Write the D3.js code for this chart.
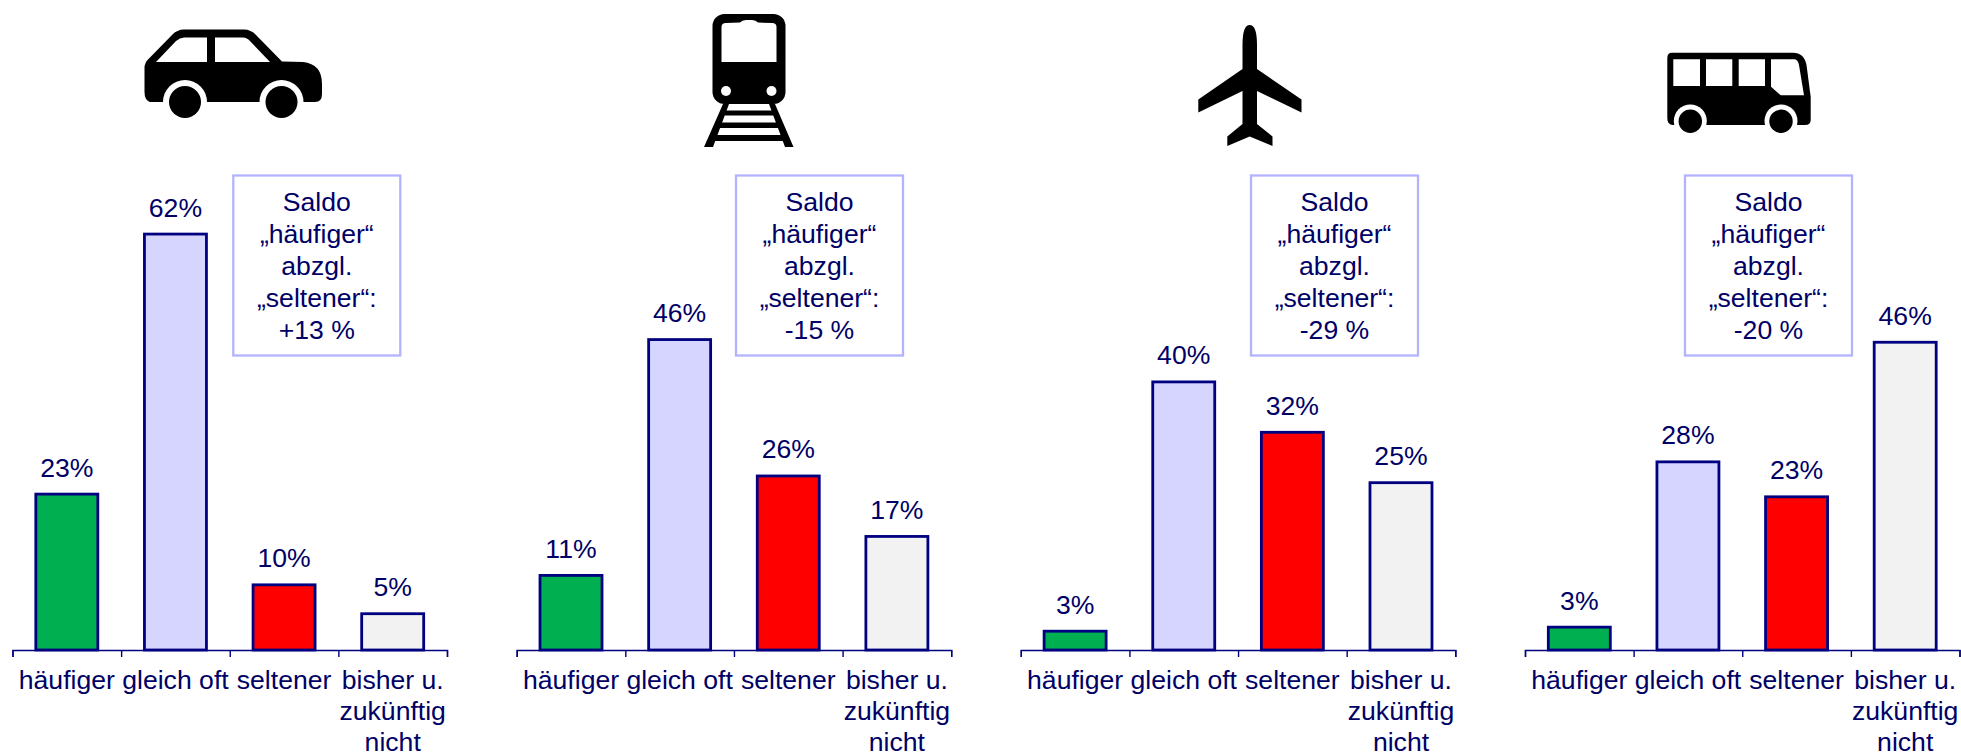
<!DOCTYPE html>
<html>
<head>
<meta charset="utf-8">
<script src="https://cdn.jsdelivr.net/npm/d3@7"></script>
<style>
  html, body { margin: 0; padding: 0; background: #fff; overflow: hidden; }
  svg { display: block; }
  text { font-family: "Liberation Sans", Arial, sans-serif; font-size: 26.6px; fill: #000066; }
  .axis path, .axis line { stroke: #000080; stroke-width: 1.4px; }
</style>
</head>
<body>
<svg id="chart" width="1961" height="754"></svg>
<script>
// values, one list per transport mode
var categories = ["häufiger", "gleich oft", "seltener", "bisher u. zukünftig nicht"];
var auto = [23.2, 61.9, 9.7, 5.4];
var bahn = [11.1, 46.2, 25.9, 16.9];
var flugzeug = [2.8, 39.9, 32.4, 24.9];
var bus = [3.4, 28, 22.8, 45.8];
var saldo = ["+13 %", "-15 %", "-29 %", "-20 %"];
var saldoLines = ["Saldo", "„häufiger“", "abzgl.", "„seltener“:"];
var barColors = ["#00B050", "#D5D5FF", "#FF0000", "#F2F2F2"];

var series = [auto, bahn, flugzeug, bus];

var svg = d3.select("#chart");
var baseline = 650, axisWidth = 434.5;
var panelX = [12.5, 516.7, 1020.8, 1525];
var boxX = [233.3, 736, 1251, 1685];

// 1% is about 6.72px in the picture
var y = d3.scaleLinear().domain([0, 62]).range([baseline, baseline - 416.6]);
var x = d3.scaleBand().domain(categories).range([0, axisWidth]).paddingInner(0).paddingOuter(0);
var xEdges = d3.scaleLinear().domain([0, 4]).range([0, axisWidth]);
var barWidth = 62;

series.forEach(function(values, p) {
  var g = svg.append("g").attr("transform", "translate(" + panelX[p] + ",0)");

  g.selectAll(".bar")
    .data(values)
    .enter().append("rect")
      .attr("class", "bar")
      .attr("x", function(d, i) { return x(categories[i]) + (x.bandwidth() - barWidth) / 2; })
      .attr("y", function(d) { return y(d); })
      .attr("width", barWidth)
      .attr("height", function(d) { return baseline - y(d); })
      .attr("fill", function(d, i) { return barColors[i]; })
      .attr("stroke", "#000080")
      .attr("stroke-width", 2.8);

  g.selectAll(".value")
    .data(values)
    .enter().append("text")
      .attr("class", "value")
      .attr("text-anchor", "middle")
      .attr("x", function(d, i) { return x(categories[i]) + x.bandwidth() / 2; })
      .attr("y", function(d) { return y(d) - 17.5; })
      .text(function(d) { return d3.format(".0f")(d) + "%"; });

  // ticks sit on the category edges, not on the centres
  g.append("g")
    .attr("class", "axis")
    .attr("transform", "translate(0," + baseline + ")")
    .call(d3.axisBottom(xEdges).ticks(4).tickSize(7).tickSizeOuter(7).tickFormat(""));

  var labels = g.append("g")
    .attr("class", "axis labels")
    .attr("transform", "translate(0," + baseline + ")")
    .call(d3.axisBottom(x).tickSize(0).tickFormat(""));
  labels.select(".domain").remove();

  labels.selectAll(".tick").each(function(d) {
    var rows = d.indexOf("bisher") == 0 ? ["bisher u.", "zukünftig", "nicht"] : [d];
    d3.select(this).selectAll("text.row")
      .data(rows)
      .enter().append("text")
        .attr("class", "row")
        .attr("text-anchor", "middle")
        .attr("y", function(r, i) { return 39 + i * 31; })
        .text(function(r) { return r; });
  });

  // Saldo box
  var box = svg.append("g").attr("transform", "translate(" + boxX[p] + ",175.5)");
  box.append("rect")
    .attr("width", 167)
    .attr("height", 180)
    .attr("fill", "#fff")
    .attr("stroke", "#B3B3FF")
    .attr("stroke-width", 2.3);
  box.selectAll("text")
    .data(saldoLines.concat([saldo[p]]))
    .enter().append("text")
      .attr("text-anchor", "middle")
      .attr("x", 83.5)
      .attr("y", function(d, i) { return 35 + i * 32; })
      .text(function(d) { return d; });
});

// transport icons
var icons = svg.append("g").attr("fill", "#000");

// car
icons.append("path").attr("d", "M144.5 68 Q144.5 63 148 59.5 L172 35 Q177 29.5 184 29.5 L244 29.5 Q251 29.5 256 35 L282 61.5 L303 62 Q322 64 322 84 L322 94 Q322 102 315 102 L150 102 Q144.5 100 144.5 92 Z");
icons.append("circle").attr("cx", 185).attr("cy", 102).attr("r", 22).attr("fill", "#fff");
icons.append("circle").attr("cx", 281.5).attr("cy", 102).attr("r", 22).attr("fill", "#fff");
icons.append("rect").attr("x", 140).attr("y", 103).attr("width", 190).attr("height", 22).attr("fill", "#fff");
icons.append("circle").attr("cx", 185).attr("cy", 102).attr("r", 16);
icons.append("circle").attr("cx", 281.5).attr("cy", 102).attr("r", 16);
icons.append("path").attr("fill", "#fff").attr("d", "M156 62 L176 41 Q180 37.5 184 37.5 L207 37.5 L207 62 Z M215 37.5 L243 37.5 Q247 37.5 250 41 L270 62 L215 62 Z");

// train
icons.append("rect").attr("x", 712.5).attr("y", 14).attr("width", 73).attr("height", 90).attr("rx", 12);
icons.append("path").attr("fill", "#fff").attr("d", "M726 23 L740 22.5 Q742 20 746 20 L752 20 Q756 20 758 22.5 L772 23 Q776.5 23 776.5 27 L776.5 62 L721.5 62 L721.5 27 Q721.5 23 726 23 Z");
icons.append("circle").attr("cx", 726).attr("cy", 91).attr("r", 5).attr("fill", "#fff");
icons.append("circle").attr("cx", 771.5).attr("cy", 91).attr("r", 5).attr("fill", "#fff");
icons.append("path").attr("d", "M723 104 L729 104 L713 147 L704 147 Z M769 104 L775 104 L793.5 147 L785 147 Z");
icons.append("path").attr("d", "M724 110.5 L775 110.5 L777 115.5 L722 115.5 Z M717 122.5 L781 122.5 L783 128 L715 128 Z M712 135 L787 135 L789 141 L710 141 Z");

// plane
icons.append("path").attr("d", "M1249.7 25 Q1257 25 1257 45 L1257 69 L1301.5 99.5 L1301.5 112.5 L1257 91 L1257 124 L1272.5 136.5 L1272.5 146 L1249.7 136.5 L1227.3 146 L1227.3 136.5 L1242.5 124 L1242.5 91 L1198.3 112.5 L1198.3 99.5 L1242.5 69 L1242.5 45 Q1242.5 25 1249.7 25 Z");

// bus
icons.append("path").attr("d", "M1672 52.7 L1793 52.7 Q1804 52.7 1806.5 65 L1810.7 97 L1810.7 120 Q1810.7 125 1805 125 L1673 125 Q1667.3 125 1667.3 118 L1667.3 58 Q1667.3 52.7 1672 52.7 Z");
icons.append("circle").attr("cx", 1690.3).attr("cy", 121).attr("r", 16.5).attr("fill", "#fff");
icons.append("circle").attr("cx", 1781).attr("cy", 121).attr("r", 16.5).attr("fill", "#fff");
icons.append("rect").attr("x", 1660).attr("y", 126).attr("width", 160).attr("height", 12).attr("fill", "#fff");
icons.append("circle").attr("cx", 1690.3).attr("cy", 121.3).attr("r", 11.7);
icons.append("circle").attr("cx", 1781).attr("cy", 121.3).attr("r", 11.7);
icons.append("path").attr("fill", "#fff").attr("d", "M1673.3 59.3 L1700 59.3 L1700 86 L1673.3 86 Z M1706 59.3 L1732.3 59.3 L1732.3 86 L1706 86 Z M1738.7 59.3 L1765 59.3 L1765 86 L1738.7 86 Z M1771 59.3 L1794 59.3 Q1798 59.3 1799 65 L1804 95.3 L1780.7 95.3 L1771 86.7 Z");
</script>
</body>
</html>
